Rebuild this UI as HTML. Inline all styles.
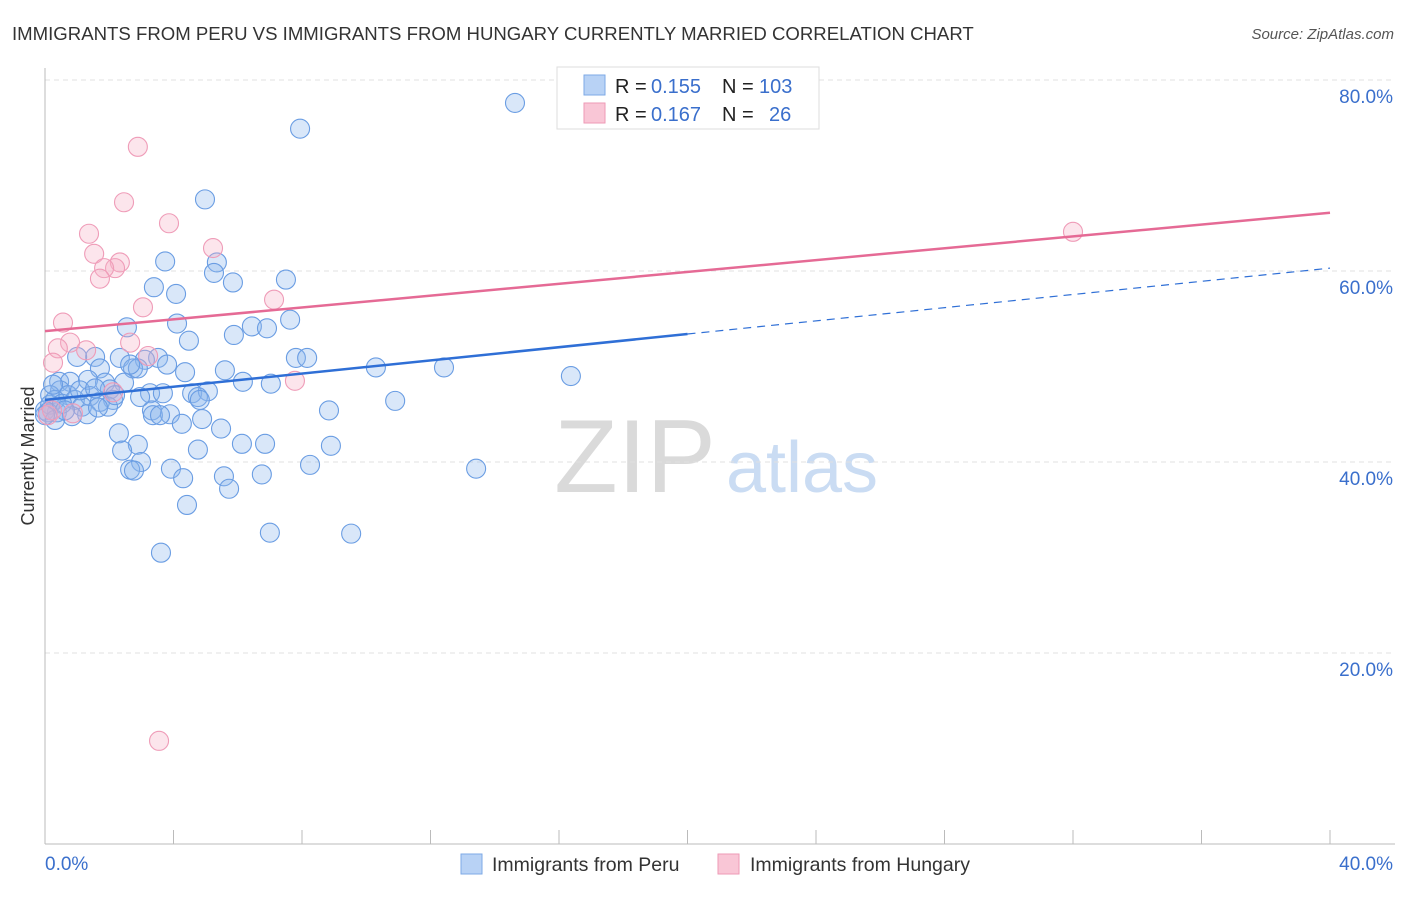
<!DOCTYPE html>
<html><head><meta charset="utf-8"><style>
body{margin:0;background:#fff;font-family:"Liberation Sans",sans-serif;}
svg text{font-family:"Liberation Sans",sans-serif;}
</style></head><body>
<svg id="chart" width="1406" height="892" viewBox="0 0 1406 892">
<text x="12" y="40" font-size="18.6" fill="#333">IMMIGRANTS FROM PERU VS IMMIGRANTS FROM HUNGARY CURRENTLY MARRIED CORRELATION CHART</text>
<text x="1394" y="39" font-size="15" fill="#555" text-anchor="end" font-style="italic">Source: ZipAtlas.com</text>
<text x="635" y="492" font-size="104" fill="#dadada" text-anchor="middle" font-family="Liberation Serif,serif">ZIP</text>
<text x="802" y="492" font-size="72" fill="#cadcf3" text-anchor="middle">atlas</text>
<g id="grid"></g><g id="axes"></g><g id="pts"></g><g id="lines"></g>
<text x="34" y="456" font-size="18" fill="#333" text-anchor="middle" transform="rotate(-90 34 456)">Currently Married</text>
<g>
<rect x="557" y="67" width="262" height="62" fill="#fff" stroke="#ddd"/>
<rect x="584" y="75" width="21" height="20" fill="#b8d2f5" stroke="#7ea9e6"/>
<rect x="584" y="103" width="21" height="20" fill="#f9c6d6" stroke="#ee9ab6"/>
<text x="615" y="93" font-size="20" fill="#222">R =</text>
<text x="651" y="93" font-size="20" fill="#3a6fcc">0.155</text>
<text x="722" y="93" font-size="20" fill="#222">N =</text>
<text x="759" y="93" font-size="20" fill="#3a6fcc">103</text>
<text x="615" y="121" font-size="20" fill="#222">R =</text>
<text x="651" y="121" font-size="20" fill="#3a6fcc">0.167</text>
<text x="722" y="121" font-size="20" fill="#222">N =</text>
<text x="769" y="121" font-size="20" fill="#3a6fcc">26</text>
</g>
<g>
<rect x="461" y="854" width="21" height="20" fill="#b8d2f5" stroke="#7ea9e6"/>
<text x="492" y="871" font-size="19.5" fill="#333">Immigrants from Peru</text>
<rect x="718" y="854" width="21" height="20" fill="#f9c6d6" stroke="#ee9ab6"/>
<text x="750" y="871" font-size="19.5" fill="#333">Immigrants from Hungary</text>
</g>
</svg>
<script>
const blueX=[14.63,7.94,4.98,3.74,5.35,5.26,7.50,5.85,3.39,4.08,7.63,4.11,2.55,6.44,6.91,5.88,4.48,1.56,1.0,2.33,3.52,3.11,7.81,8.16,3.80,2.74,2.89,10.30,12.42,16.37,1.71,4.36,6.16,7.03,0.44,0.78,1.34,2.46,1.87,3.27,3.67,4.58,5.07,4.76,2.02,0.47,0.16,0.72,0.93,1.40,2.12,1.71,10.9,1.15,1.96,3.33,3.36,8.84,4.82,3.89,1.31,4.89,0.37,0.84,4.26,5.48,2.30,2.89,6.13,6.85,8.90,4.76,2.40,2.99,3.92,8.25,13.42,2.65,2.77,5.57,6.75,4.30,5.73,4.42,7.00,9.53,3.61,0.0,0.16,0.31,0.09,0.53,1.09,1.56,2.65,1.65,2.18,2.96,3.58,5.60,0.31,0.62,0.0,0.25];
const blueY=[77.6,74.9,67.5,61.0,60.9,59.8,59.1,58.8,58.3,57.6,54.9,54.5,54.1,54.2,54.0,53.3,52.7,51.0,51.0,50.9,50.9,50.7,50.9,50.9,50.2,49.8,49.8,49.9,49.9,49.0,49.8,49.4,48.4,48.2,48.4,48.4,48.6,48.3,48.3,47.2,47.2,47.2,47.4,46.8,47.6,47.5,47.0,47.0,46.5,46.9,46.5,46.3,46.4,45.8,45.8,45.4,44.9,45.4,46.5,45.0,45.0,44.5,45.2,44.8,44.0,43.5,43.0,41.8,41.9,41.9,41.7,41.3,41.2,40.0,39.3,39.7,39.3,39.2,39.1,38.5,38.7,38.3,37.2,35.5,32.6,32.5,30.5,45.4,46.0,46.5,45.2,46.1,47.5,47.7,50.2,45.7,47.0,46.8,44.9,49.6,44.4,45.4,44.9,48.1];
const pinkX=[2.89,2.46,3.86,1.37,5.23,1.53,2.33,2.18,1.84,1.71,3.05,7.13,0.56,0.78,2.65,0.40,1.28,0.25,3.21,7.78,2.12,0.87,32.0,3.55,0.09,0.22];
const pinkY=[73.0,67.2,65.0,63.9,62.4,61.8,60.9,60.3,60.3,59.2,56.2,57.0,54.6,52.5,52.5,51.9,51.7,50.4,51.1,48.5,47.3,45.1,64.1,10.8,44.9,45.4];
const blueTrend=[46.5,60.3];
const pinkTrend=[53.7,66.1];
const yTicks=[20,40,60,80];
const yTickLabels=["20.0%","40.0%","60.0%","80.0%"];
const xTicks=[0,4,8,12,16,20,24,28,32,36,40];
const xTickLabels=["0.0%","40.0%"];
const NS="http://www.w3.org/2000/svg";
const sx=v=>45+v*32.125, sy=v=>844-v*9.55;
function mk(tag,attrs,parent){const e=document.createElementNS(NS,tag);for(const k in attrs)e.setAttribute(k,attrs[k]);parent.appendChild(e);return e;}
const grid=document.getElementById('grid'),axes=document.getElementById('axes'),pts=document.getElementById('pts'),lines=document.getElementById('lines');
yTicks.forEach((t,i)=>{
const l=mk('line',{x1:45,x2:1395,y1:sy(t),y2:sy(t),stroke:'#e0e0e0','stroke-dasharray':'5,4'},grid);


const tx=mk('text',{x:1393,y:sy(t)+23,'font-size':19,fill:'#3a6fcc','text-anchor':'end'},axes);
tx.textContent=yTickLabels[i];


});
const ax=mk('line',{x1:45,x2:45,y1:68,y2:844,stroke:'#bbb'},axes);


const bx=mk('line',{x1:45,x2:1395,y1:844,y2:844,stroke:'#bbb'},axes);


xTicks.forEach(t=>{
const l=mk('line',{x1:sx(t),x2:sx(t),y1:830,y2:844,stroke:'#bbb'},axes);


});
const xl0=mk('text',{x:45,y:870,'font-size':19,fill:'#3a6fcc'},axes);xl0.textContent=xTickLabels[0];


const xl1=mk('text',{x:1393,y:870,'font-size':19,fill:'#3a6fcc','text-anchor':'end'},axes);xl1.textContent=xTickLabels[1];


blueX.forEach((x,i)=>{
const c=mk('circle',{cx:sx(x),cy:sy(blueY[i]),r:9.5,fill:'rgba(140,182,238,0.33)',stroke:'#6a9de3','stroke-width':1.1},pts);


});
pinkX.forEach((x,i)=>{
const c=mk('circle',{cx:sx(x),cy:sy(pinkY[i]),r:9.5,fill:'rgba(245,175,198,0.33)',stroke:'#ef9cb8','stroke-width':1.1},pts);


});
const bm=blueTrend[0]+(blueTrend[1]-blueTrend[0])*0.5;
const t1=mk('line',{x1:sx(0),y1:sy(blueTrend[0]),x2:sx(20),y2:sy(bm),stroke:'#2f6fd6','stroke-width':2.5},lines);


const t2=mk('line',{x1:sx(20),y1:sy(bm),x2:sx(40),y2:sy(blueTrend[1]),stroke:'#2f6fd6','stroke-width':1.2,'stroke-dasharray':'8,6'},lines);


const t3=mk('line',{x1:sx(0),y1:sy(pinkTrend[0]),x2:sx(40),y2:sy(pinkTrend[1]),stroke:'#e56a95','stroke-width':2.5},lines);


</script>
</body></html>
